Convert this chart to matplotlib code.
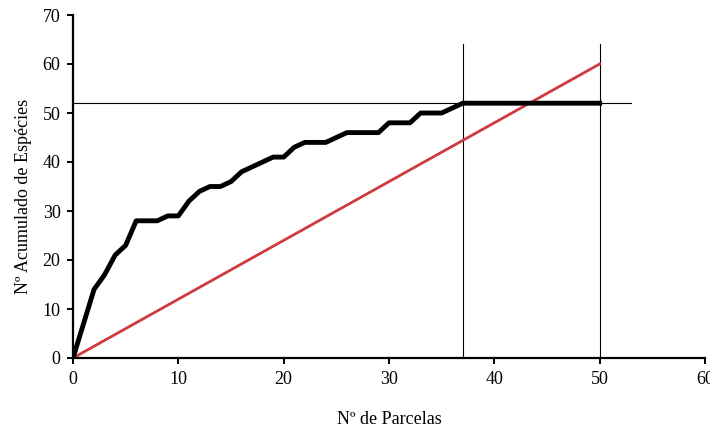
import numpy as np
from matplotlib import pyplot as plt

plt.rcParams['font.family'] = ['Liberation Serif', 'DejaVu Serif']

# curva de acumulação de espécies
parcelas = list(range(0, 51))
especies = [0, 7, 14, 17, 21, 23, 28, 28, 28, 29, 29, 32, 34, 35, 35, 36, 38, 39, 40, 41,
            41, 43, 44, 44, 44, 45, 46, 46, 46, 46, 48, 48, 48, 50, 50, 50, 51,
            52, 52, 52, 52, 52, 52, 52, 52, 52, 52, 52, 52, 52, 52]

# reta de referência
reta_x = [0, 50]
reta_y = [0, 60]

# linhas auxiliares
y_estab = 52
x_estab = 37
x_total = 50
lim_h = [0, 53]
lim_v = [0, 64]

fig = plt.figure(figsize=(7.1, 4.3), dpi=100)
ax = fig.add_axes([73/710, 1 - 358/430, (705 - 73)/710, (358 - 15)/430])

ax.plot(lim_h, [y_estab, y_estab], color='black', lw=0.8, zorder=1)
ax.plot([x_estab, x_estab], lim_v, color='black', lw=0.8, zorder=1)
ax.plot([x_total, x_total], lim_v, color='black', lw=0.8, zorder=1)
ax.plot(reta_x, reta_y, color='#CF3A3F', lw=2.0, zorder=2)
ax.plot(parcelas, especies, color='black', lw=3.5, solid_joinstyle='round', zorder=3)

ax.set_xlim(0, 60)
ax.set_ylim(0, 70)
ax.set_xticks(np.arange(0, 61, 10))
ax.set_yticks(np.arange(0, 71, 10))
ax.spines['top'].set_visible(False)
ax.spines['right'].set_visible(False)
ax.spines['left'].set_linewidth(1.6)
ax.spines['bottom'].set_linewidth(1.6)
ax.tick_params(direction='out', length=4, width=1.4, labelsize=13, colors='black')
ax.tick_params(axis='x', pad=5)
ax.tick_params(axis='y', pad=5)
ax.set_xlabel('Nº de Parcelas', fontsize=13, labelpad=17)
ax.set_ylabel('Nº Acumulado de Espécies', fontsize=13)
ax.yaxis.set_label_coords(-0.065, 0.47)

fig.savefig('out.png', dpi=100)
